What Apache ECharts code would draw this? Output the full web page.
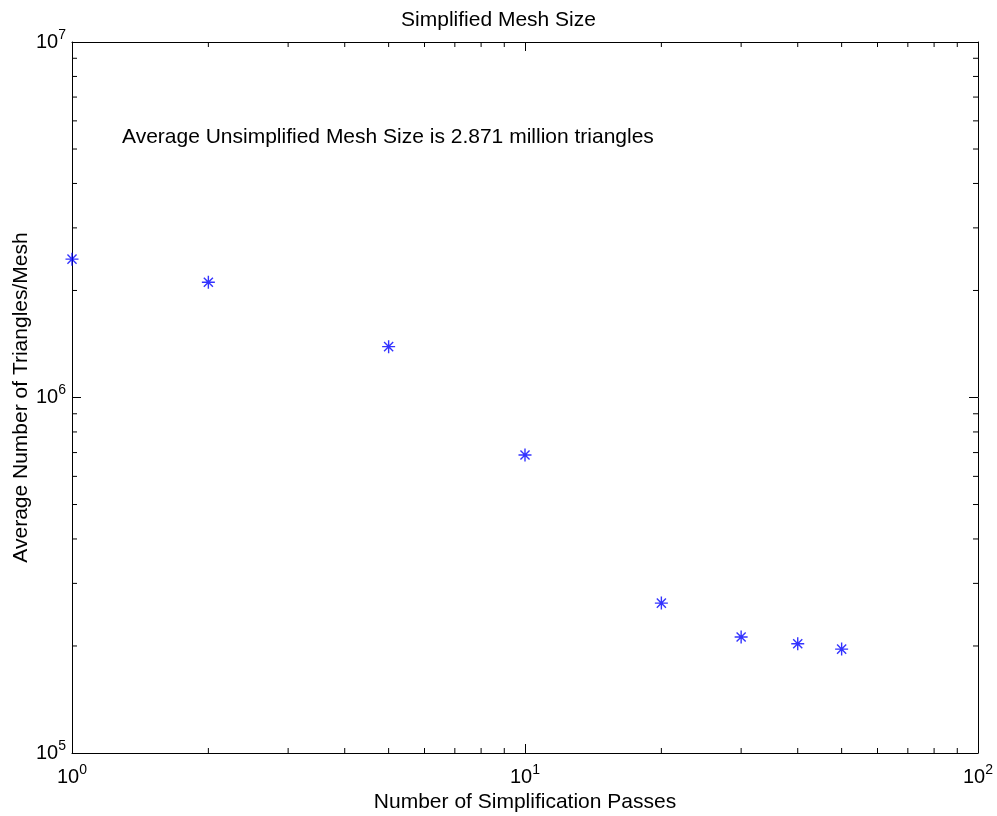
<!DOCTYPE html>
<html>
<head>
<meta charset="utf-8">
<title>Simplified Mesh Size</title>
<script src="https://cdn.jsdelivr.net/npm/echarts@6/dist/echarts.min.js"></script>
<style>
  html, body { margin: 0; padding: 0; background: #ffffff; }
  #chart { width: 997px; height: 816px; }
</style>
</head>
<body>
<div id="chart"></div>
<script>
// Simplification passes and the resulting average triangle count per mesh
const passes = [1, 2, 5, 10, 20, 30, 40, 50];
const trianglesPerMesh = [2450000, 2110000, 1390000, 689000, 264000, 212000, 203000, 196000];

// Axis ranges and minor tick positions (log decades)
const xRange = [1, 100];
const yRange = [100000, 10000000];
const xMinorTicks = [2, 3, 4, 5, 6, 7, 8, 9, 20, 30, 40, 50, 60, 70, 80, 90];
const yMinorTicks = [200000, 300000, 400000, 500000, 600000, 700000, 800000, 900000,
                     2000000, 3000000, 4000000, 5000000, 6000000, 7000000, 8000000, 9000000];

const titleText = 'Simplified Mesh Size';
const noteText = 'Average Unsimplified Mesh Size is 2.871 million triangles';
const xName = 'Number of Simplification Passes';
const yName = 'Average Number of Triangles/Mesh';

const FONT = 'Liberation Sans, Arial, sans-serif';
const chart = echarts.init(document.getElementById('chart'), null, { renderer: 'canvas' });

// "10" with a raised exponent
function powerLabel(v) {
  const e = Math.round(Math.log10(v));
  return '{b|10}{s|' + e + '}';
}
const powerRich = {
  b: { fontFamily: FONT, fontSize: 20, color: '#000' },
  s: { fontFamily: FONT, fontSize: 14, color: '#000', padding: [0, 0, 14, 0] }
};

const lineStyle = { color: '#000', width: 1 };

function baseX(extra) {
  return Object.assign({
    type: 'log', logBase: 10, min: xRange[0], max: xRange[1],
    axisLine: { show: true, onZero: false, lineStyle: lineStyle },
    axisTick: { show: true, inside: true, length: 9, lineStyle: lineStyle },
    minorTick: { show: false },
    splitLine: { show: false },
    axisLabel: { show: false }
  }, extra);
}
function baseY(extra) {
  return Object.assign({
    type: 'log', logBase: 10, min: yRange[0], max: yRange[1],
    axisLine: { show: true, onZero: false, lineStyle: lineStyle },
    axisTick: { show: true, inside: true, length: 9, lineStyle: lineStyle },
    minorTick: { show: false },
    splitLine: { show: false },
    axisLabel: { show: false }
  }, extra);
}

// Short inward ticks at 2..9 of each decade, on both opposite edges
function minorTickRender(isX) {
  return function (params, api) {
    const v = api.value(isX ? 0 : 1);
    const lo = api.coord([xRange[0], yRange[0]]);
    const hi = api.coord([xRange[1], yRange[1]]);
    const len = 5;
    const style = { stroke: '#000', lineWidth: 1 };
    if (isX) {
      const px = api.coord([v, yRange[0]])[0];
      return {
        type: 'group',
        children: [
          { type: 'line', shape: { x1: px, y1: lo[1], x2: px, y2: lo[1] - len }, style: style },
          { type: 'line', shape: { x1: px, y1: hi[1], x2: px, y2: hi[1] + len }, style: style }
        ]
      };
    }
    const py = api.coord([xRange[0], v])[1];
    return {
      type: 'group',
      children: [
        { type: 'line', shape: { x1: lo[0], y1: py, x2: lo[0] + len, y2: py }, style: style },
        { type: 'line', shape: { x1: hi[0], y1: py, x2: hi[0] - len, y2: py }, style: style }
      ]
    };
  };
}

const option = {
  animation: false,
  backgroundColor: '#ffffff',
  title: {
    text: titleText,
    left: 'center',
    top: 5,
    textStyle: { fontFamily: FONT, fontSize: 21, fontWeight: 'normal', color: '#000' }
  },
  grid: {
    left: 72, top: 42, right: 19, bottom: 63,
    containLabel: false,
    outerBoundsMode: 'none'
  },
  xAxis: [
    baseX({
      position: 'bottom',
      name: xName,
      nameLocation: 'middle',
      nameGap: 39,
      nameMoveOverlap: false,
      nameTextStyle: { fontFamily: FONT, fontSize: 21, color: '#000' },
      axisLabel: { show: true, margin: 10, formatter: powerLabel, rich: powerRich }
    }),
    baseX({ position: 'top' })
  ],
  yAxis: [
    baseY({
      position: 'left',
      name: yName,
      nameLocation: 'middle',
      nameGap: 40,
      nameMoveOverlap: false,
      nameTextStyle: { fontFamily: FONT, fontSize: 21, color: '#000' },
      axisLabel: { show: true, margin: 6, formatter: powerLabel, rich: powerRich }
    }),
    baseY({ position: 'right' })
  ],
  graphic: [
    {
      type: 'text',
      left: 122,
      top: 127,
      style: { text: noteText, fontFamily: FONT, fontSize: 21, fill: '#000' }
    }
  ],
  series: [
    {
      type: 'custom',
      xAxisIndex: 0, yAxisIndex: 0,
      silent: true,
      renderItem: minorTickRender(true),
      data: xMinorTicks.map(function (v) { return [v, yRange[0]]; })
    },
    {
      type: 'custom',
      xAxisIndex: 0, yAxisIndex: 0,
      silent: true,
      renderItem: minorTickRender(false),
      data: yMinorTicks.map(function (v) { return [xRange[0], v]; })
    },
    {
      type: 'scatter',
      xAxisIndex: 0, yAxisIndex: 0,
      symbol: 'path://M0,-10L0,10M-10,0L10,0M-7,-7L7,7M-7,7L7,-7',
      symbolSize: 13,
      itemStyle: { color: 'none', borderColor: '#0000ff', borderWidth: 1.4 },
      emphasis: { disabled: true },
      clip: false,
      data: passes.map(function (p, i) { return [p, trianglesPerMesh[i]]; })
    }
  ]
};

chart.setOption(option);
</script>
</body>
</html>
